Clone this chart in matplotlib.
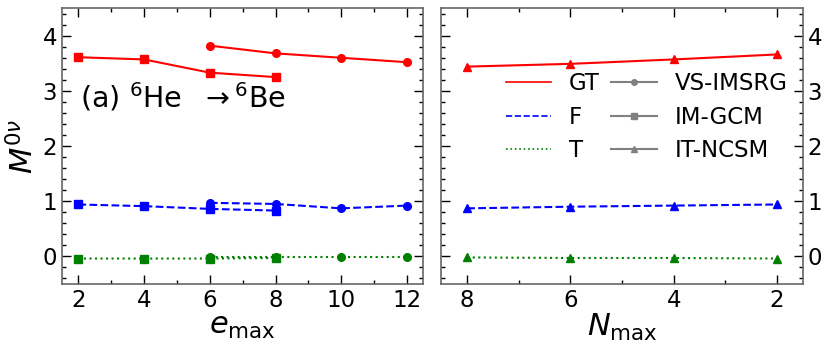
import matplotlib
matplotlib.use("Agg")
import matplotlib.pyplot as plt
from matplotlib.lines import Line2D
from matplotlib.ticker import MultipleLocator

# e_max dependence (VS-IMSRG circles, IM-GCM squares)
emax_vs = [6, 8, 10, 12]
gt_vs = [3.82, 3.68, 3.60, 3.52]
f_vs = [0.97, 0.95, 0.87, 0.92]
t_vs = [-0.02, -0.02, -0.02, -0.02]

emax_gcm = [2, 4, 6, 8]
gt_gcm = [3.61, 3.57, 3.33, 3.25]
f_gcm = [0.94, 0.91, 0.86, 0.83]
t_gcm = [-0.04, -0.04, -0.04, -0.03]

# N_max dependence (IT-NCSM triangles)
nmax = [8, 6, 4, 2]
gt_nc = [3.44, 3.49, 3.57, 3.66]
f_nc = [0.87, 0.90, 0.92, 0.94]
t_nc = [-0.02, -0.03, -0.03, -0.04]

plt.rcParams['font.family'] = 'DejaVu Sans'
fig, (ax1, ax2) = plt.subplots(1, 2, figsize=(8.31, 3.54), dpi=100)
fig.subplots_adjust(left=0.0746, right=0.966, top=0.977, bottom=0.198, wspace=0.05)

ms = 5.5
ax1.plot(emax_vs, gt_vs, '-', color='red', marker='o', ms=ms)
ax1.plot(emax_gcm, gt_gcm, '-', color='red', marker='s', ms=ms)
ax1.plot(emax_vs, f_vs, '--', color='blue', marker='o', ms=ms)
ax1.plot(emax_gcm, f_gcm, '--', color='blue', marker='s', ms=ms)
ax1.plot(emax_vs, t_vs, ':', color='green', marker='o', ms=ms)
ax1.plot(emax_gcm, t_gcm, ':', color='green', marker='s', ms=ms)

ax2.plot(nmax, gt_nc, '-', color='red', marker='^', ms=ms)
ax2.plot(nmax, f_nc, '--', color='blue', marker='^', ms=ms)
ax2.plot(nmax, t_nc, ':', color='green', marker='^', ms=ms)

ax1.set_xlim(1.5, 12.5)
ax2.set_xlim(8.5, 1.5)
for ax in (ax1, ax2):
    ax.set_ylim(-0.5, 4.5)
    ax.xaxis.set_major_locator(MultipleLocator(2))
    ax.xaxis.set_minor_locator(MultipleLocator(1))
    ax.yaxis.set_major_locator(MultipleLocator(1))
    ax.yaxis.set_minor_locator(MultipleLocator(0.2))
    ax.tick_params(which='both', direction='in', top=True, right=True, labelsize=16.5)
    ax.tick_params(which='major', length=6.5, width=1)
    ax.tick_params(which='minor', length=3.2, width=1)
    for s in ax.spines.values():
        s.set_color('#666666')
        s.set_linewidth(1.2)

ax2.tick_params(labelleft=False, labelright=True)

ax1.set_ylabel(r'$M^{0\nu}$', fontsize=22, labelpad=2)
ax1.set_xlabel(r'$e_{\rm max}$', fontsize=22, labelpad=0)
ax2.set_xlabel(r'$N_{\rm max}$', fontsize=22, labelpad=0)

ax1.text(0.05, 0.641, r'(a) $^{6}$He  $\rightarrow$$^{6}$Be', transform=ax1.transAxes,
         fontsize=20.5, va='baseline')

handles = [
    Line2D([], [], color='red', ls='-', lw=1.2),
    Line2D([], [], color='blue', ls='--', lw=1.2),
    Line2D([], [], color='green', ls=':', lw=1.2),
    Line2D([], [], color='gray', ls='-', lw=1.5, marker='o', ms=4),
    Line2D([], [], color='gray', ls='-', lw=1.5, marker='s', ms=4),
    Line2D([], [], color='gray', ls='-', lw=1.5, marker='^', ms=4),
]
labels = ['GT', 'F', 'T', 'VS-IMSRG', 'IM-GCM', 'IT-NCSM']
ax2.legend(handles, labels, ncol=2, frameon=False, fontsize=16.5,
           loc='center', bbox_to_anchor=(0.568, 0.605),
           handlelength=2.0, columnspacing=0.5, labelspacing=0.44, handletextpad=0.77)

plt.savefig("out.png")
